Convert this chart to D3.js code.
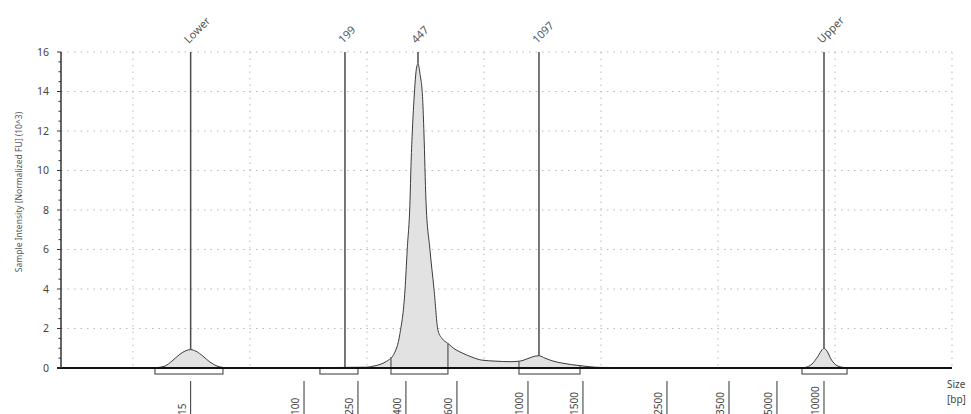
<!DOCTYPE html>
<html>
<head>
	<title>Electropherogram</title>
	<style type="text/css">
		html, body {
			margin: 0;
			padding: 0;
			background-color: #fff;
		}
		svg text {
			font-family: "Noto Sans", "Open Sans", sans-serif;
		}
		.grid line {
			stroke: #b8b8b8;
			stroke-width: 1;
			stroke-dasharray: 1.5,5;
		}
	</style>
</head>
<body>
	<div id="chart"></div>
	<script src="https://cdn.jsdelivr.net/npm/d3@7"></script>
	<script type="text/javascript">
		// ladder: fragment size (bp) and its migration time (s)
		const ladderSizes = [15, 100, 250, 400, 600, 1000, 1500, 2500, 3500, 5000, 10000];
		const ladderTimes = [54.93, 64.62, 69.23, 73.33, 77.69, 83.76, 88.46, 95.64, 100.94, 105.04, 109.06];

		// called peaks
		const markerLabels = ['Lower', '199', '447', '1097', 'Upper'];
		const markerTimes = [54.93, 68.12, 74.36, 84.70, 109.06];

		// integrated regions under the bands
		const regionStarts = [51.88, 65.98, 72.05, 82.99, 107.18];
		const regionEnds = [57.69, 69.23, 76.92, 88.21, 111.03];

		// trace, intensity in 10^3 FU
		const traceTimes = [
			43.85, 51.5, 52.05, 52.74, 53.33, 54.02, 54.53, 54.93, 55.38, 55.98, 56.58, 57.18, 57.69, 58.3,
			65.0, 68.0, 70.0, 70.6, 71.2, 71.7, 72.3, 72.82, 73.25, 73.44, 73.68, 73.76, 73.87, 74.02,
			74.25, 74.36, 74.53, 74.76, 74.87, 75.04, 75.38, 75.73, 76.07, 76.41, 76.90, 77.52, 78.21,
			78.97, 79.80, 80.94, 82.22, 83.08, 83.76, 84.36, 84.70, 85.21, 85.90, 86.75, 88.21, 89.91,
			95.0, 106.8, 107.44, 108.03, 108.55, 108.89, 109.06, 109.32, 109.66, 110.17, 110.85, 111.5, 120.0
		];
		const traceValues = [
			0, 0, 0.02, 0.1, 0.35, 0.7, 0.88, 0.93, 0.85, 0.6, 0.3, 0.1, 0.03, 0,
			0.01, 0.03, 0.04, 0.1, 0.2, 0.35, 0.7, 1.75, 3.95, 6, 8.5, 10.2, 11.9, 13.6,
			15.25, 15.4, 14.9, 13.6, 11.9, 8.5, 6, 4, 1.9, 1.5, 1.25, 0.95, 0.74,
			0.55, 0.4, 0.35, 0.32, 0.35, 0.48, 0.6, 0.62, 0.5, 0.35, 0.24, 0.12, 0.03,
			0.01, 0, 0.03, 0.2, 0.6, 0.92, 1.0, 0.85, 0.45, 0.12, 0.02, 0, 0
		];

		const yTicks = [0, 2, 4, 6, 8, 10, 12, 14, 16];
		const gridTimes = [50, 60, 70, 80, 90, 100, 110, 120];

		const width = 971, height = 414;
		const plotLeft = 61, plotRight = 952, plotTop = 52, plotBottom = 368;

		const svg = d3.select('#chart')
			.append('svg')
			.attr('width', width)
			.attr('height', height);

		const x = d3.scaleLinear().domain([43.85, 120]).range([plotLeft, plotRight]);
		const y = d3.scaleLinear().domain([0, 16]).range([plotBottom, plotTop]);

		const trace = traceTimes.map((t, i) => ({ t: t, v: traceValues[i] }));

		// value of the trace at time t (linear between points)
		function traceAt(t) {
			const i = d3.bisector(d => d.t).left(trace, t);
			if (i <= 0) return trace[0].v;
			if (i >= trace.length) return trace[trace.length - 1].v;
			const a = trace[i - 1], b = trace[i];
			return a.v + (b.v - a.v) * (t - a.t) / (b.t - a.t);
		}

		// grid
		const grid = svg.append('g').attr('class', 'grid');
		grid.selectAll('line.h')
			.data(yTicks.filter(d => d > 0))
			.join('line')
			.attr('class', 'h')
			.attr('x1', plotLeft).attr('x2', plotRight)
			.attr('y1', d => y(d)).attr('y2', d => y(d));
		grid.selectAll('line.v')
			.data(gridTimes)
			.join('line')
			.attr('class', 'v')
			.attr('x1', d => x(d)).attr('x2', d => x(d))
			.attr('y1', plotTop).attr('y2', plotBottom);

		// trace
		const area = d3.area()
			.curve(d3.curveMonotoneX)
			.x(d => x(d.t))
			.y0(y(0))
			.y1(d => y(d.v));
		const line = d3.line()
			.curve(d3.curveMonotoneX)
			.x(d => x(d.t))
			.y(d => y(d.v));

		svg.append('path')
			.attr('d', area(trace))
			.attr('fill', '#e2e2e2');
		svg.append('path')
			.attr('d', line(trace))
			.attr('fill', 'none')
			.attr('stroke', '#3a3a3a')
			.attr('stroke-width', 1);

		// region brackets
		const regions = regionStarts.map((s, i) => ({ s: s, e: regionEnds[i] }));
		const br = svg.append('g');
		br.selectAll('rect')
			.data(regions)
			.join('rect')
			.attr('x', d => x(d.s))
			.attr('y', plotBottom)
			.attr('width', d => x(d.e) - x(d.s))
			.attr('height', 6)
			.attr('fill', '#fff')
			.attr('stroke', '#555')
			.attr('stroke-width', 1.2);
		// region edges up to the trace
		const edges = regions.flatMap(d => [d.s, d.e]);
		br.selectAll('line')
			.data(edges)
			.join('line')
			.attr('x1', d => x(d)).attr('x2', d => x(d))
			.attr('y1', d => y(traceAt(d)))
			.attr('y2', plotBottom)
			.attr('stroke', '#555')
			.attr('stroke-width', 1.2);

		// peak markers
		const markers = markerLabels.map((l, i) => ({ label: l, t: markerTimes[i] }));
		svg.selectAll('line.marker')
			.data(markers)
			.join('line')
			.attr('class', 'marker')
			.attr('x1', d => x(d.t)).attr('x2', d => x(d.t))
			.attr('y1', plotTop)
			.attr('y2', d => y(traceAt(d.t)))
			.attr('stroke', '#4a4a4a')
			.attr('stroke-width', 1.5);
		svg.selectAll('text.marker')
			.data(markers)
			.join('text')
			.attr('class', 'marker')
			.attr('transform', d => `translate(${x(d.t) - 2},${plotTop - 8}) rotate(-45)`)
			.attr('font-size', 11)
			.attr('fill', '#555')
			.text(d => d.label);

		// baseline / x axis
		svg.append('line')
			.attr('x1', plotLeft - 4).attr('x2', plotRight)
			.attr('y1', plotBottom).attr('y2', plotBottom)
			.attr('stroke', '#111')
			.attr('stroke-width', 2);

		// y axis
		const yAxis = svg.append('g');
		yAxis.append('line')
			.attr('x1', plotLeft).attr('x2', plotLeft)
			.attr('y1', plotTop).attr('y2', plotBottom)
			.attr('stroke', '#333')
			.attr('stroke-width', 1.5);
		yAxis.selectAll('line.minor')
			.data(d3.range(0, 16.01, 0.5))
			.join('line')
			.attr('class', 'minor')
			.attr('x1', d => d % 2 === 0 ? plotLeft - 4 : plotLeft - 2.5).attr('x2', plotLeft)
			.attr('y1', d => y(d)).attr('y2', d => y(d))
			.attr('stroke', '#333')
			.attr('stroke-width', 1);
		yAxis.selectAll('text')
			.data(yTicks)
			.join('text')
			.attr('x', plotLeft - 12)
			.attr('y', d => y(d))
			.attr('dy', '0.35em')
			.attr('text-anchor', 'end')
			.attr('font-size', 10.5)
			.attr('fill', '#444')
			.text(d => d);

		svg.append('text')
			.attr('transform', `translate(22,${(plotTop + plotBottom) / 2 - 18}) rotate(-90)`)
			.attr('text-anchor', 'middle')
			.attr('font-size', 8.5)
			.attr('fill', '#555')
			.text('Sample Intensity [Normalized FU] (10^3)');

		// ladder sizes below the axis
		const ladder = ladderSizes.map((s, i) => ({ s: s, t: ladderTimes[i] }));
		svg.selectAll('line.ladder')
			.data(ladder)
			.join('line')
			.attr('class', 'ladder')
			.attr('x1', d => x(d.t)).attr('x2', d => x(d.t))
			.attr('y1', 381).attr('y2', height)
			.attr('stroke', '#333')
			.attr('stroke-width', 1);
		svg.selectAll('text.ladder')
			.data(ladder)
			.join('text')
			.attr('class', 'ladder')
			.attr('transform', d => `translate(${x(d.t) - 5},${height + 1}) rotate(-90)`)
			.attr('font-size', 10)
			.attr('fill', '#444')
			.text(d => d.s);

		svg.append('text')
			.attr('x', 947).attr('y', 388)
			.attr('font-size', 10)
			.attr('fill', '#444')
			.text('Size');
		svg.append('text')
			.attr('x', 947).attr('y', 403)
			.attr('font-size', 10)
			.attr('fill', '#444')
			.text('[bp]');
	</script>
</body>
</html>
